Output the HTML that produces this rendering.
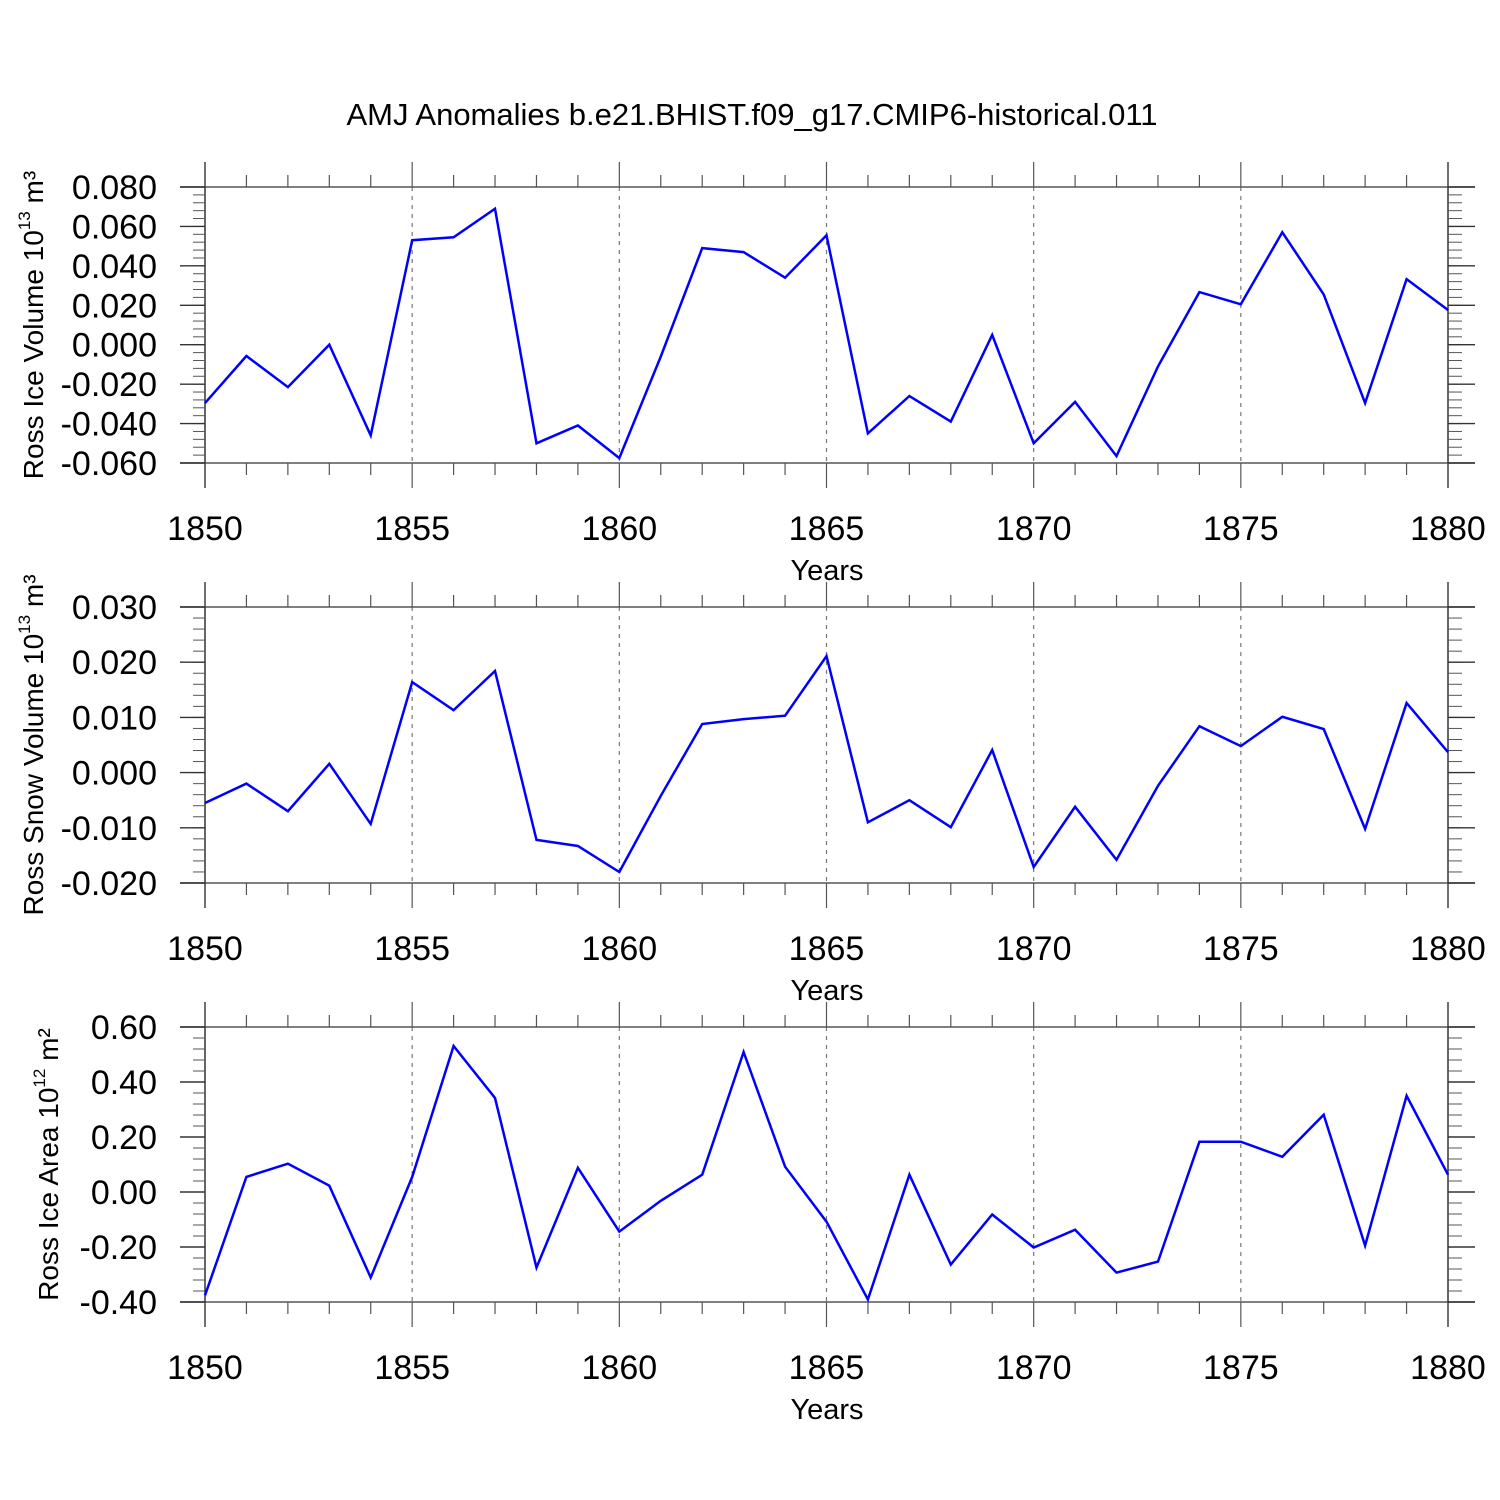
<!DOCTYPE html>
<html><head><meta charset="utf-8"><style>
html,body{margin:0;padding:0;background:#fff;}
svg{display:block;font-family:"Liberation Sans",sans-serif;}
</style></head><body>
<svg id="chart" width="1500" height="1500" viewBox="0 0 1500 1500" xmlns="http://www.w3.org/2000/svg">
<text x="752" y="125" font-size="31" text-anchor="middle">AMJ Anomalies b.e21.BHIST.f09_g17.CMIP6-historical.011</text>
</svg>
<script>
const years = [1850,1851,1852,1853,1854,1855,1856,1857,1858,1859,1860,1861,1862,1863,1864,1865,1866,1867,1868,1869,1870,1871,1872,1873,1874,1875,1876,1877,1878,1879,1880];
const iceVolume = [-0.0296,-0.0057,-0.0215,0.0,-0.046,0.053,0.0545,0.069,-0.050,-0.041,-0.0575,-0.006,0.049,0.047,0.034,0.0555,-0.045,-0.026,-0.039,0.005,-0.050,-0.029,-0.0565,-0.011,0.0267,0.0205,0.057,0.0255,-0.0296,0.0333,0.0176];
const snowVolume = [-0.0055,-0.002,-0.007,0.0016,-0.0093,0.0164,0.0113,0.0184,-0.0122,-0.0133,-0.018,-0.0042,0.0088,0.0097,0.0103,0.0211,-0.009,-0.005,-0.0099,0.0041,-0.0171,-0.0062,-0.0158,-0.0024,0.0084,0.0048,0.0101,0.0079,-0.0102,0.0126,0.0037];
const iceArea = [-0.376,0.055,0.103,0.023,-0.311,0.055,0.531,0.342,-0.275,0.088,-0.144,-0.032,0.063,0.509,0.092,-0.108,-0.391,0.063,-0.264,-0.082,-0.202,-0.137,-0.293,-0.253,0.183,0.183,0.128,0.281,-0.195,0.350,0.063];
const iceVolTicks = [0.08,0.06,0.04,0.02,0,-0.02,-0.04,-0.06];
const snowVolTicks = [0.03,0.02,0.01,0,-0.01,-0.02];
const areaTicks = [0.6,0.4,0.2,0,-0.2,-0.4];
const xTicks = [1850,1855,1860,1865,1870,1875,1880];

const NS="http://www.w3.org/2000/svg";
const svg=document.getElementById('chart');
function mk(tag,attrs,parent){const e=document.createElementNS(NS,tag);for(const k in attrs)e.setAttribute(k,attrs[k]);(parent||svg).appendChild(e);return e;}
const X0=205,X1=1448;
const xs=v=>X0+(v-1850)/(1880-1850)*(X1-X0);

function panel(name,top,bot,ymax,ymin,ticks,decimals,minorStep,vals,labelMain,labelSup,labelRest,labelX){
  const g=mk('g',{});
  
  
  const ys=v=>top+(ymax-v)/(ymax-ymin)*(bot-top);
  xTicks.slice(1,-1).forEach(t=>{const l=mk('line',{x1:xs(t),x2:xs(t),y1:top,y2:bot,stroke:'#777','stroke-width':1.2,'stroke-dasharray':'4,5'},g);
    
    });
  mk('line',{x1:180,x2:1475,y1:top,y2:top,stroke:'#555','stroke-width':1.5},g);
  mk('line',{x1:180,x2:1475,y1:bot,y2:bot,stroke:'#555','stroke-width':1.5},g);
  mk('line',{x1:X0,x2:X0,y1:top-25,y2:bot+25,stroke:'#333','stroke-width':1.5},g);
  mk('line',{x1:X1,x2:X1,y1:top-25,y2:bot+25,stroke:'#333','stroke-width':1.5},g);
  years.forEach(yr=>{const major=(yr%5===0);const len=major?25:12;
    mk('line',{x1:xs(yr),x2:xs(yr),y1:top-len,y2:top,stroke:'#555','stroke-width':1.2},g);
    mk('line',{x1:xs(yr),x2:xs(yr),y1:bot,y2:bot+len,stroke:'#555','stroke-width':1.2},g);});
  xTicks.forEach(t=>{const tx=mk('text',{x:xs(t),y:bot+77,'font-size':34,'text-anchor':'middle'},g);tx.textContent=t;
    
    });
  const xt=mk('text',{x:827,y:bot+117,'font-size':29,'text-anchor':'middle'},g);xt.textContent='Years';
  
  
  const n=Math.round((ymax-ymin)/minorStep);
  for(let i=0;i<=n;i++){const v=ymin+i*minorStep;const y=ys(v);
    mk('line',{x1:193,x2:X0,y1:y,y2:y,stroke:'#555','stroke-width':1},g);
    mk('line',{x1:X1,x2:1462,y1:y,y2:y,stroke:'#555','stroke-width':1},g);}
  ticks.forEach(t=>{const y=ys(t);
    mk('line',{x1:180,x2:X0,y1:y,y2:y,stroke:'#333','stroke-width':1.4},g);
    mk('line',{x1:X1,x2:1475,y1:y,y2:y,stroke:'#333','stroke-width':1.4},g);
    const tx=mk('text',{x:157,y:y+12,'font-size':34,'text-anchor':'end'},g);tx.textContent=t.toFixed(decimals);
    
    });
  const cy=(top+bot)/2;
  const yl=mk('text',{x:0,y:0,'font-size':28,'text-anchor':'middle',transform:`translate(${labelX},${cy}) rotate(-90)`},g);
  
  
  const t1=mk('tspan',{},yl);t1.textContent=labelMain;
  const t2=mk('tspan',{'font-size':17,dy:-13},yl);t2.textContent=labelSup;
  const t3=mk('tspan',{dy:13},yl);t3.textContent=labelRest;
  const pts=vals.map((v,i)=>xs(years[i]).toFixed(1)+','+ys(v).toFixed(1)).join(' ');
  const pl=mk('polyline',{points:pts,fill:'none',stroke:'#0000ff','stroke-width':2.5,'stroke-linejoin':'miter'},g);
  
  
}
panel('ice-volume',187,463,0.08,-0.06,iceVolTicks,3,0.004,iceVolume,'Ross Ice Volume 10','13',' m\u00b3',43);
panel('snow-volume',607,883,0.03,-0.02,snowVolTicks,3,0.002,snowVolume,'Ross Snow Volume 10','13',' m\u00b3',43);
panel('ice-area',1027,1302,0.6,-0.4,areaTicks,2,0.04,iceArea,'Ross Ice Area 10','12',' m\u00b2',58);
</script>
</body></html>
